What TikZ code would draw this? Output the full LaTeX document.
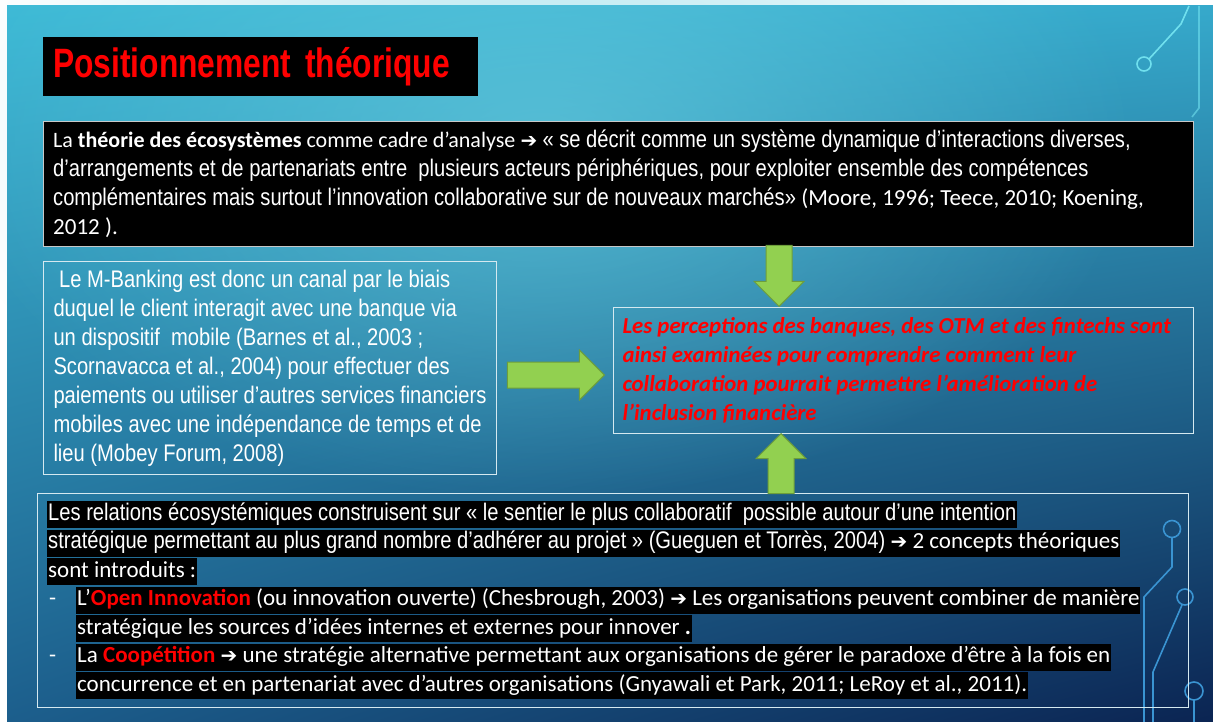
\documentclass[tikz,border=0pt]{standalone}
\usepackage{fontspec}
\setmainfont{Carlito}
\newfontfamily\narrowfont[FakeStretch=0.84]{Liberation Sans}
\newfontfamily\titlefont[FakeStretch=0.775]{Liberation Sans}
\newfontfamily\symfont{DejaVu Sans}
\usetikzlibrary{shapes.arrows,fadings,shadings}

\definecolor{bgul}{HTML}{3DBAD6}
\definecolor{bgur}{HTML}{36A9CB}
\definecolor{bgll}{HTML}{1C5E8C}
\definecolor{bglr}{HTML}{0B2452}
\definecolor{bgglow}{HTML}{6CD0E2}
\definecolor{boxedge}{HTML}{C8C8C8}
\definecolor{glassedge}{HTML}{D5E9F0}
\definecolor{arrowgreen}{HTML}{92D050}
\definecolor{arrowedge}{HTML}{6E9E3A}
\definecolor{circcyan}{HTML}{70E0EE}
\definecolor{circblue}{HTML}{3A94D2}

\tikzfading[name=glowfade, inner color=transparent!0, outer color=transparent!100]

\newcommand{\rarr}{{\symfont\fontsize{20}{29}\selectfont ➔}}
\newcommand{\nf}{\narrowfont\fontsize{24}{29}\selectfont}
\newcommand{\cf}{\fontsize{23}{29}\selectfont}

\begin{document}
\begin{tikzpicture}[x=1pt,y=-1pt,
  darkbox/.style={draw=boxedge, fill=black, text=white, inner xsep=10pt, inner ysep=0pt, anchor=north west, align=flush left},
  glassbox/.style={draw=glassedge, line width=1pt, inner ysep=0pt, anchor=north west, align=flush left},
  garrow/.style={single arrow, draw=arrowedge, fill=arrowgreen, line width=1pt, single arrow head extend=12pt, single arrow tip angle=90, single arrow head indent=0pt, minimum width=49pt, inner sep=12.5pt},
  hl/.style={fill=black, text=white, inner xsep=1pt, inner ysep=0pt, text height=19pt, text depth=8pt, anchor=base west, font=\cf},
  bullet/.style={text=white, inner sep=0pt, anchor=base west, font=\cf},
  circtop/.style={draw=circcyan, line width=1.6pt},
  circbot/.style={draw=circblue, line width=1.6pt}]

\useasboundingbox (0,0) rectangle (1213,722);

% slide background
\fill[white] (0,0) rectangle (1213,722);
\shade[upper left=bgul, upper right=bgur, lower left=bgll, lower right=bglr] (7,6) rectangle (1213,722);
\fill[bgglow, opacity=0.6, path fading=glowfade] (540,140) ellipse [x radius=600, y radius=360];

% circuit lines
\draw[circtop] (1189,6) -- (1181,24) -- (1149,59);
\draw[circtop] (1144,64) circle [radius=7pt];
\draw[circtop, opacity=0.6] (1199,6) -- (1199,108) -- (1192,117);
\draw[circbot] (1172,529) circle [radius=8.5pt];
\draw[circbot] (1172,537.5) -- (1172,567) -- (1144,597) -- (1144,722);
\draw[circbot] (1185,597) circle [radius=8pt];
\draw[circbot] (1182,605) -- (1153,672) -- (1153,722);
\draw[circbot] (1194,691) circle [radius=9pt];
\draw[circbot] (1194,700) -- (1194,722);

% title
\node[fill=black, text=red, anchor=north west, minimum width=435, minimum height=59, inner xsep=10pt, text width=415, font=\titlefont\bfseries\fontsize{41}{41}\selectfont] (title) at (43,37) {Positionnement théorique};

% theory box
\node[darkbox, text width=1130, minimum height=125, font=\cf] (theo) at (43,121)
  {{\fontsize{22}{29}\selectfont La \textbf{théorie des écosystèmes} comme cadre d’analyse} \rarr{} {\nf « se décrit comme un système dynamique d’interactions diverses,}\\
   {\nf d’arrangements et de partenariats entre \ plusieurs acteurs périphériques, pour exploiter ensemble des compétences}\\
   {\nf complémentaires mais surtout l’innovation collaborative sur de nouveaux marchés»} (Moore, 1996; Teece, 2010; Koening,\\
   2012 ).};

% m-banking box
\node[glassbox, text=white, inner xsep=10pt, text width=433, minimum height=213, font=\nf] (mbank) at (43,261)
  {\ Le M-Banking est donc un canal par le biais\\
   duquel le client interagit avec une banque via\\
   un dispositif \ mobile (Barnes et al., 2003 ;\\
   Scornavacca et al., 2004) pour effectuer des\\
   paiements ou utiliser d’autres services financiers\\
   mobiles avec une indépendance de temps et de\\
   lieu (Mobey Forum, 2008)};

% perceptions box
\node[glassbox, text=red, inner xsep=9pt, text width=562, minimum height=126, font=\fontsize{22.8}{29}\selectfont\bfseries\itshape] (perc) at (613,307)
  {Les perceptions des banques, des OTM et des fintechs sont\\
   ainsi examinées pour comprendre comment leur\\
   collaboration pourrait permettre l’amélioration de\\
   l’inclusion financière};

% relations box
\node[glassbox, minimum width=1151, minimum height=214] (rel) at (37,493) {};

\node[hl] (l1) at (47,520) {{\nf Les relations écosystémiques construisent sur « le sentier le plus collaboratif \ possible autour d’une intention}};
\node[hl] (l2) at (47,548.5) {{\nf stratégique permettant au plus grand nombre d’adhérer au projet » (Gueguen et Torrès, 2004)} \rarr{} 2 concepts théoriques};
\node[hl] (l3) at (47,577) {sont introduits :};
\node[bullet] (d1) at (49,605.5) {-};
\node[hl] (l4) at (76,605.5) {L’{\color{red}\textbf{Open Innovation}} (ou innovation ouverte) (Chesbrough, 2003) \rarr{} Les organisations peuvent combiner de manière};
\node[hl] (l5) at (76,634) {stratégique les sources d'idées internes et externes pour innover \textbf{.}};
\node[bullet] (d2) at (49,662.5) {-};
\node[hl] (l6) at (76,662.5) {La {\color{red}\textbf{Coopétition}} \rarr{} une stratégie alternative permettant aux organisations de gérer le paradoxe d’être à la fois en};
\node[hl] (l7) at (76,691) {concurrence et en partenariat avec d’autres organisations (Gnyawali et Park, 2011; LeRoy et al., 2011).};

% block arrows
\node[garrow, shape border rotate=270, minimum height=61, anchor=tip] (down) at (779,307) {};
\node[garrow, shape border rotate=90, minimum height=60, anchor=tip] (up) at (781,433) {};
\node[garrow, minimum height=97, anchor=tip] (right) at (605,375) {};
\end{tikzpicture}
\end{document}
